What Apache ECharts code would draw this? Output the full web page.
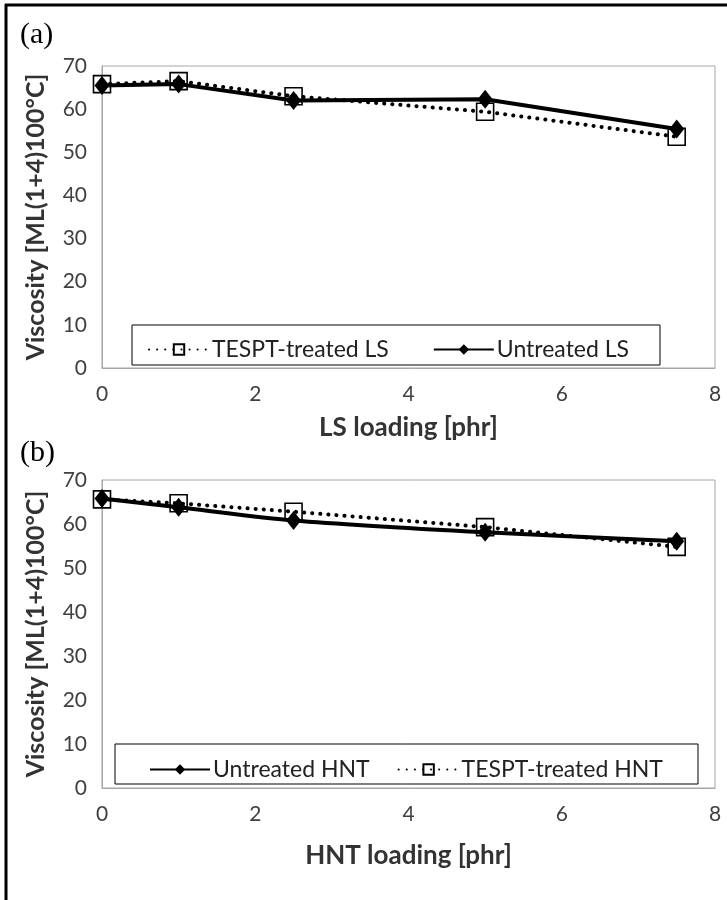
<!DOCTYPE html>
<html>
<head>
<meta charset="utf-8">
<script src="https://cdn.jsdelivr.net/npm/echarts@6/dist/echarts.min.js"></script>
<style>
  html, body { margin: 0; padding: 0; background: #fff; }
  #chart { width: 727px; height: 900px; }
</style>
</head>
<body>
<div id="chart"></div>
<script>
// filler loadings (phr)
const loadings = [0, 1, 2.5, 5, 7.5];
// (a) LS
const lsTreated = [65.8, 66.5, 63.0, 59.4, 53.6];
const lsUntreated = [65.5, 65.8, 62.0, 62.3, 55.4];
// (b) HNT
const hntUntreated = [65.8, 63.8, 60.8, 58.1, 56.1];
const hntTreated = [65.6, 64.7, 62.8, 59.3, 54.8];

const xTicks = [0, 2, 4, 6, 8];
const yTicks = [0, 10, 20, 30, 40, 50, 60, 70];

const pair = (xs, ys) => xs.map((x, i) => [x, ys[i]]);

const txt = '#404040';
const font = 'Lato, "Open Sans", sans-serif';

function xAx(idx, name, gap) {
    return {
        type: 'value', gridIndex: idx,
        min: xTicks[0], max: xTicks[xTicks.length - 1], interval: 2,
        name: name, nameLocation: 'middle', nameGap: gap,
        nameTextStyle: { fontFamily: font, fontSize: 26, fontWeight: 'bold', color: '#333' },
        axisLine: { show: true, lineStyle: { color: '#a6a6a6', width: 1 } },
        axisTick: { show: false },
        splitLine: { show: false },
        axisLabel: { fontFamily: font, fontSize: 21, color: txt, margin: 16 }
    };
}
function yAx(idx) {
    return {
        type: 'value', gridIndex: idx,
        min: yTicks[0], max: yTicks[yTicks.length - 1], interval: 10,
        name: 'Viscosity [ML(1+4)100°C]', nameLocation: 'middle', nameGap: 54,
        nameTextStyle: { fontFamily: font, fontSize: 25, fontWeight: 'bold', color: '#333' },
        axisLine: { show: true, lineStyle: { color: '#a6a6a6', width: 1 } },
        axisTick: { show: false },
        splitLine: { show: false },
        axisLabel: { fontFamily: font, fontSize: 21, color: txt, margin: 15 }
    };
}

const solid = { color: '#000', width: 4 };
const dots = { color: '#000', width: 4, type: [0.1, 8], cap: 'round' };
const sq = { symbol: 'rect', symbolSize: 17, itemStyle: { color: 'rgba(255,255,255,0)', borderColor: '#000', borderWidth: 1.6 } };
const dia = { symbol: 'diamond', symbolSize: [15, 19], itemStyle: { color: '#000' } };

const chart = echarts.init(document.getElementById('chart'));
chart.setOption({
    backgroundColor: '#fff',
    animation: false,
    textStyle: { fontFamily: font },
    grid: [
        { left: 102, right: 12, top: 66, height: 302, show: true, borderColor: '#a6a6a6', borderWidth: 1 },
        { left: 102, right: 12, top: 480, height: 308, show: true, borderColor: '#a6a6a6', borderWidth: 1 }
    ],
    xAxis: [xAx(0, 'LS loading [phr]', 47), xAx(1, 'HNT loading [phr]', 55)],
    yAxis: [yAx(0), yAx(1)],
    legend: [
        {
            data: ['TESPT-treated LS', 'Untreated LS'],
            left: 143, top: 333, itemWidth: 60, itemHeight: 13, itemGap: 44,
            textStyle: { fontFamily: font, fontSize: 23, color: '#222', padding: [0, 0, 0, -2] }
        },
        {
            data: ['Untreated HNT', 'TESPT-treated HNT'],
            left: 144, top: 753, itemWidth: 60, itemHeight: 13, itemGap: 28,
            textStyle: { fontFamily: font, fontSize: 23, color: '#222', padding: [0, 0, 0, -2] }
        }
    ],
    series: [
        Object.assign({ name: 'TESPT-treated LS', type: 'line', xAxisIndex: 0, yAxisIndex: 0, data: pair(loadings, lsTreated), lineStyle: dots }, sq),
        Object.assign({ name: 'Untreated LS', type: 'line', xAxisIndex: 0, yAxisIndex: 0, data: pair(loadings, lsUntreated), lineStyle: solid }, dia),
        Object.assign({ name: 'TESPT-treated HNT', type: 'line', xAxisIndex: 1, yAxisIndex: 1, data: pair(loadings, hntTreated), lineStyle: dots }, sq),
        Object.assign({ name: 'Untreated HNT', type: 'line', xAxisIndex: 1, yAxisIndex: 1, smooth: 0.25, data: pair(loadings, hntUntreated), lineStyle: solid }, dia)
    ],
    graphic: [
        // outer frame (top and left edges visible)
        { type: 'line', shape: { x1: 5, y1: 5, x2: 727, y2: 5 }, style: { stroke: '#000', lineWidth: 3 } },
        { type: 'line', shape: { x1: 6, y1: 4, x2: 6, y2: 900 }, style: { stroke: '#000', lineWidth: 3 } },
        // legend boxes
        { type: 'rect', shape: { x: 132, y: 325, width: 528, height: 40 }, style: { fill: 'none', stroke: '#000', lineWidth: 1 } },
        { type: 'rect', shape: { x: 115, y: 744, width: 583, height: 40 }, style: { fill: 'none', stroke: '#000', lineWidth: 1 } },
        // panel labels
        { type: 'text', left: 20, top: 20, style: { text: '(a)', font: '30px "Liberation Serif", serif', fill: '#000' } },
        { type: 'text', left: 20, top: 438, style: { text: '(b)', font: '30px "Liberation Serif", serif', fill: '#000' } }
    ]
});
</script>
</body>
</html>
